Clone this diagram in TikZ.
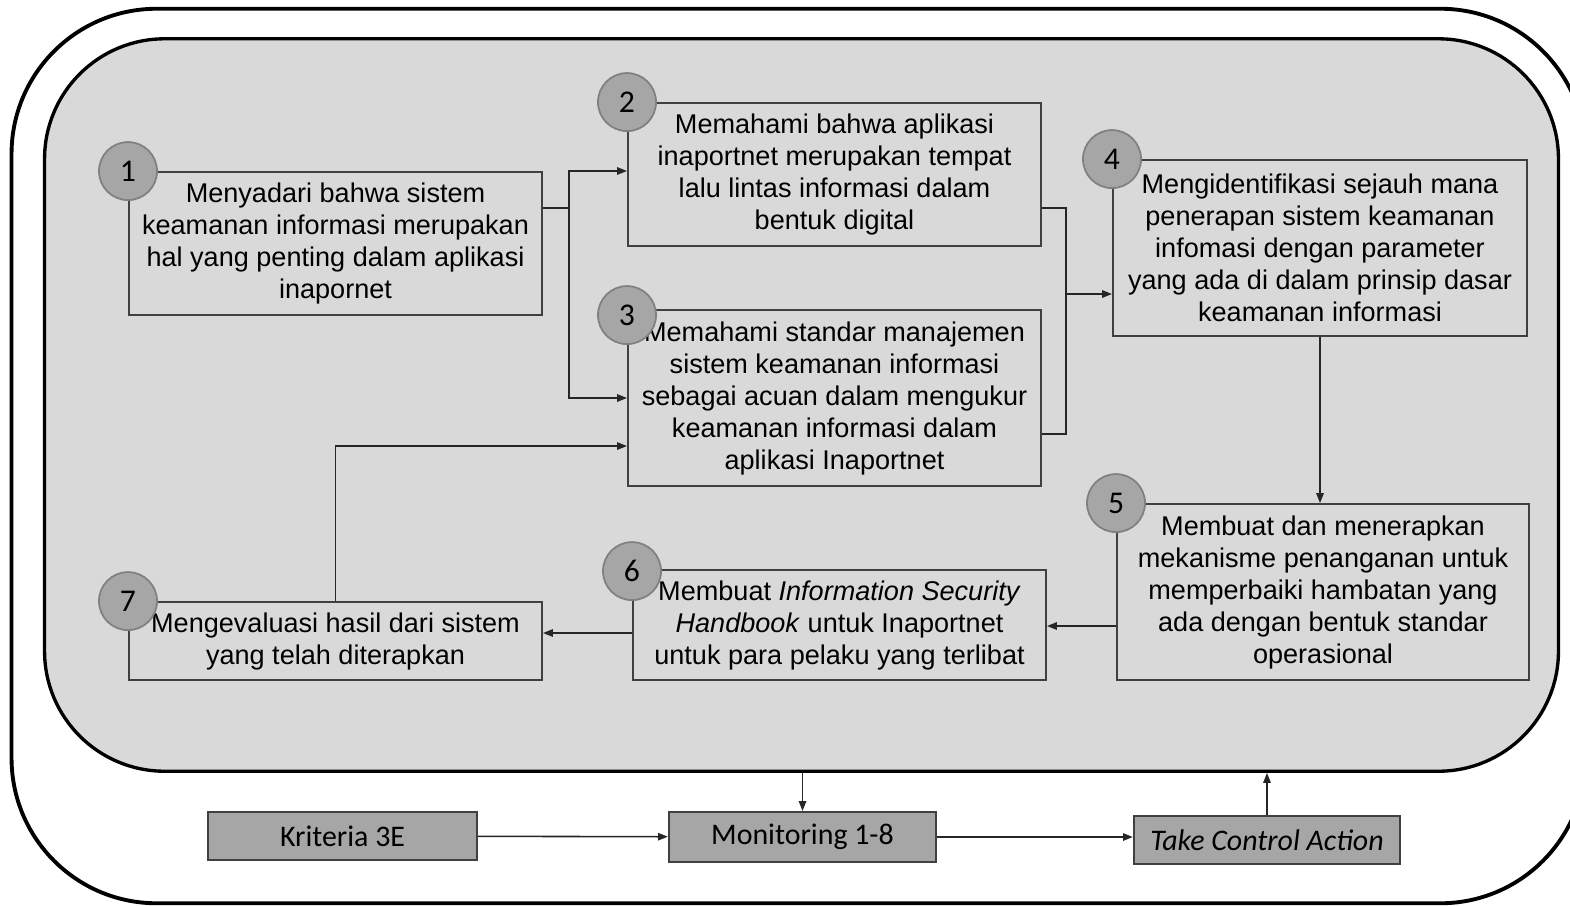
\documentclass[tikz,border=0pt]{standalone}
\usepackage{fontspec}
\setmainfont{Liberation Sans}
\newfontfamily\calibri{Carlito}
\usepackage{xcolor}
\usetikzlibrary{arrows.meta}
\definecolor{panelgray}{HTML}{D9D9D9}
\definecolor{numgray}{HTML}{A6A6A6}
\definecolor{edgegray}{HTML}{404040}

\begin{document}
\begin{tikzpicture}[x=0.01cm, y=-0.01cm,
      stepbox/.style={draw=edgegray, line width=0.5pt, fill=panelgray, align=center,
                      inner sep=2pt, font=\fontsize{7.7pt}{9.1pt}\selectfont},
      num/.style={circle, draw=gray, fill=numgray, line width=0.5pt, minimum size=0.58cm,
                  inner sep=0pt, font=\calibri\fontsize{9pt}{10pt}\selectfont},
      ctrl/.style={draw=edgegray, line width=0.6pt, fill=numgray, minimum width=2.67cm,
                   minimum height=0.48cm, inner sep=1pt, font=\calibri\fontsize{8.5pt}{10pt}\selectfont},
      arr/.style={-{Triangle[length=2.8pt, width=2.1pt]}, line width=0.45pt, draw=black!85},
      line/.style={line width=0.45pt, draw=black!85}]
    \clip (0,0) rectangle (1570,905);
    % frames
    \node[draw, line width=1.1pt, rounded corners=1.45cm, minimum width=15.73cm,
          minimum height=8.94cm] (frame) at (798.5,456) {};
    \node[draw, line width=0.95pt, fill=panelgray, rounded corners=1.2cm, minimum width=15.13cm,
          minimum height=7.32cm] (panel) at (801.5,405) {};
    % steps
    \node[stepbox, minimum width=4.13cm, minimum height=1.43cm] (s1) at (335.5,243.5)
      {Menyadari bahwa sistem\\keamanan informasi merupakan\\hal yang penting dalam aplikasi\\inapornet};
    \node[stepbox, minimum width=4.13cm, minimum height=1.43cm] (s2) at (834.5,174.5)
      {Memahami bahwa aplikasi\\inaportnet merupakan tempat\\lalu lintas informasi dalam\\bentuk digital};
    \node[stepbox, minimum width=4.13cm, minimum height=1.76cm] (s3) at (834.5,398)
      {Memahami standar manajemen\\sistem keamanan informasi\\sebagai acuan dalam mengukur\\keamanan informasi dalam\\aplikasi Inaportnet};
    \node[stepbox, minimum width=4.14cm, minimum height=1.76cm] (s4) at (1320,248)
      {Mengidentifikasi sejauh mana\\penerapan sistem keamanan\\infomasi dengan parameter\\yang ada di dalam prinsip dasar\\keamanan informasi};
    \node[stepbox, minimum width=4.12cm, minimum height=1.76cm] (s5) at (1323,592)
      {Membuat dan menerapkan\\mekanisme penanganan untuk\\memperbaiki hambatan yang\\ada dengan bentuk standar\\operasional};
    \node[stepbox, minimum width=4.13cm, minimum height=1.10cm] (s6) at (839.5,625)
      {Membuat \textit{Information Security}\\\textit{Handbook} untuk Inaportnet\\untuk para pelaku yang terlibat};
    \node[stepbox, minimum width=4.13cm, minimum height=0.78cm] (s7) at (335.5,641)
      {Mengevaluasi hasil dari sistem\\yang telah diterapkan};
    % numbers
    \node[num] (n1) at (s1.north west) {1};
    \node[num] (n2) at (s2.north west) {2};
    \node[num] (n3) at ([yshift=-0.06cm]s3.north west) {3};
    \node[num] (n4) at (s4.north west) {4};
    \node[num] (n5) at (s5.north west) {5};
    \node[num] (n6) at ([yshift=-0.02cm]s6.north west) {6};
    \node[num] (n7) at (s7.north west) {7};
    % flow
    \coordinate (j1) at (569,208);
    \coordinate (j2) at (1066,294);
    \draw[line] ([yshift=0.355cm]s1.east) -- (j1);
    \draw[arr] (j1) |- ([yshift=0.035cm]s2.west);
    \draw[arr] (j1) |- (s3.west);
    \draw[line] ([yshift=-0.335cm]s2.east) -| (j2) |- ([yshift=-0.36cm]s3.east);
    \draw[arr] (j2) -- (j2 -| s4.west);
    \draw[arr] (s4.south) -- (s4.south |- s5.north);
    \draw[arr] ([yshift=-0.34cm]s5.west) -- ([yshift=-0.01cm]s6.east);
    \draw[arr] ([yshift=-0.08cm]s6.west) -- ([yshift=0.08cm]s7.east);
    \draw[arr] (s7.north) |- ([yshift=-0.48cm]s3.west);
    % control loop
    \node[ctrl, minimum width=2.69cm] (k) at (342.5,836) {Kriteria 3E};
    \node[ctrl, minimum height=0.50cm] (m) at (802.5,837) {Monitoring 1-8};
    \node[ctrl, minimum width=2.66cm] (t) at (1267,840) {\textit{Take Control Action}};
    \draw[arr] (k) -- (m);
    \draw[arr] (m.east) -- (t.west |- m.east);
    \draw[arr] (panel.south -| m.north) -- (m.north);
    \draw[arr] (t.north) -- (t.north |- panel.south);
  \end{tikzpicture}
\end{document}
